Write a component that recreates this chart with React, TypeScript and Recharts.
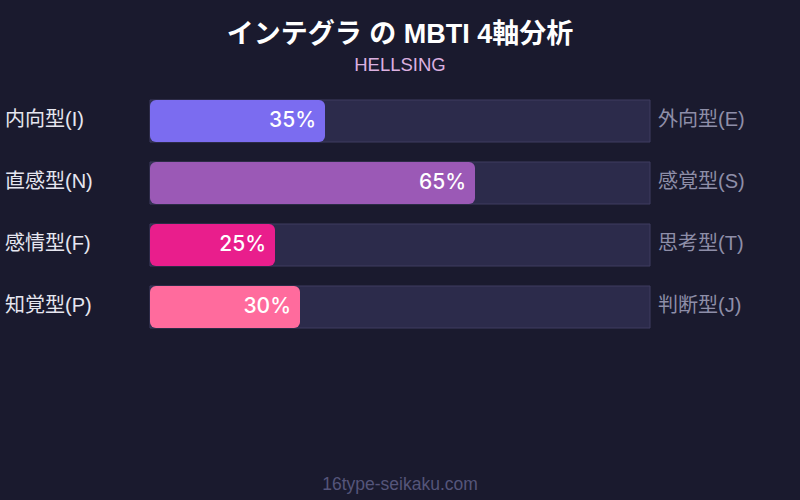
import React from "react";
import { BarChart, Bar, XAxis, YAxis, Cell, LabelList } from "recharts";

const leftLabels = ["内向型(I)", "直感型(N)", "感情型(F)", "知覚型(P)"];
const rightLabels = ["外向型(E)", "感覚型(S)", "思考型(T)", "判断型(J)"];
const values = [35, 65, 25, 30];
const barColors = ["#7b6cf0", "#9b59b6", "#e91e8c", "#ff6b9d"];

const data = leftLabels.map((l, i) => ({ left: l, right: rightLabels[i], value: values[i] }));

const FONT = "'Liberation Sans', Arial, 'Noto Sans CJK JP', sans-serif";
const LABEL_FONT = "Inter, 'Liberation Sans', sans-serif";

const Tick = (props: any) => {
  const { y, index } = props;
  return (
    <g>
      <text x={5} y={y} dy={5} textAnchor="start" fill="#e6e6f0" fontSize={20} fontFamily={FONT}>
        {leftLabels[index]}
      </text>
      <text x={658} y={y} dy={5} textAnchor="start" fill="#8e8ea8" fontSize={20} fontFamily={FONT}>
        {rightLabels[index]}
      </text>
    </g>
  );
};

const ValueLabel = (props: any) => {
  const { x, y, width, height, value } = props;
  return (
    <text x={x + width - 9} y={y + height / 2 + 5.5} textAnchor="end" fill="#ffffff" fontSize={21} fontWeight={500} fontFamily={LABEL_FONT}>
      {`${value}%`}
    </text>
  );
};

export default function App() {
  return (
    <div style={{ position: "absolute", left: 0, top: 0, width: 800, height: 500, background: "#1a1a2e", fontFamily: FONT, overflow: "hidden" }}>
      <svg width={800} height={500} style={{ position: "absolute", left: 0, top: 0 }}>
        <text x={400} y={42.5} textAnchor="middle" fill="#ffffff" fontSize={27} fontWeight={700} fontFamily={FONT}>
          インテグラ の MBTI 4軸分析
        </text>
        <text x={400} y={70.5} textAnchor="middle" fill="#dcb0e0" fontSize={18.5} fontFamily={FONT}>
          HELLSING
        </text>
        <text x={400} y={490} textAnchor="middle" fill="#55557a" fontSize={17.5} fontFamily={FONT}>
          16type-seikaku.com
        </text>
      </svg>
      <div style={{ position: "absolute", left: 0, top: 0 }}>
        <BarChart width={800} height={500} data={data} layout="vertical" margin={{ top: 90, bottom: 162, left: 0, right: 150 }} barSize={42}>
          <XAxis type="number" domain={[0, 100]} hide />
          <YAxis type="category" dataKey="left" width={150} axisLine={false} tickLine={false} tick={<Tick />} interval={0} />
          <Bar dataKey="value" isAnimationActive={false} radius={6} background={{ fill: "#2c2b4b", stroke: "#3e3d60", strokeWidth: 1 }}>
            {data.map((d, i) => (
              <Cell key={d.left} fill={barColors[i]} />
            ))}
            <LabelList dataKey="value" content={<ValueLabel />} />
          </Bar>
        </BarChart>
      </div>
    </div>
  );
}
